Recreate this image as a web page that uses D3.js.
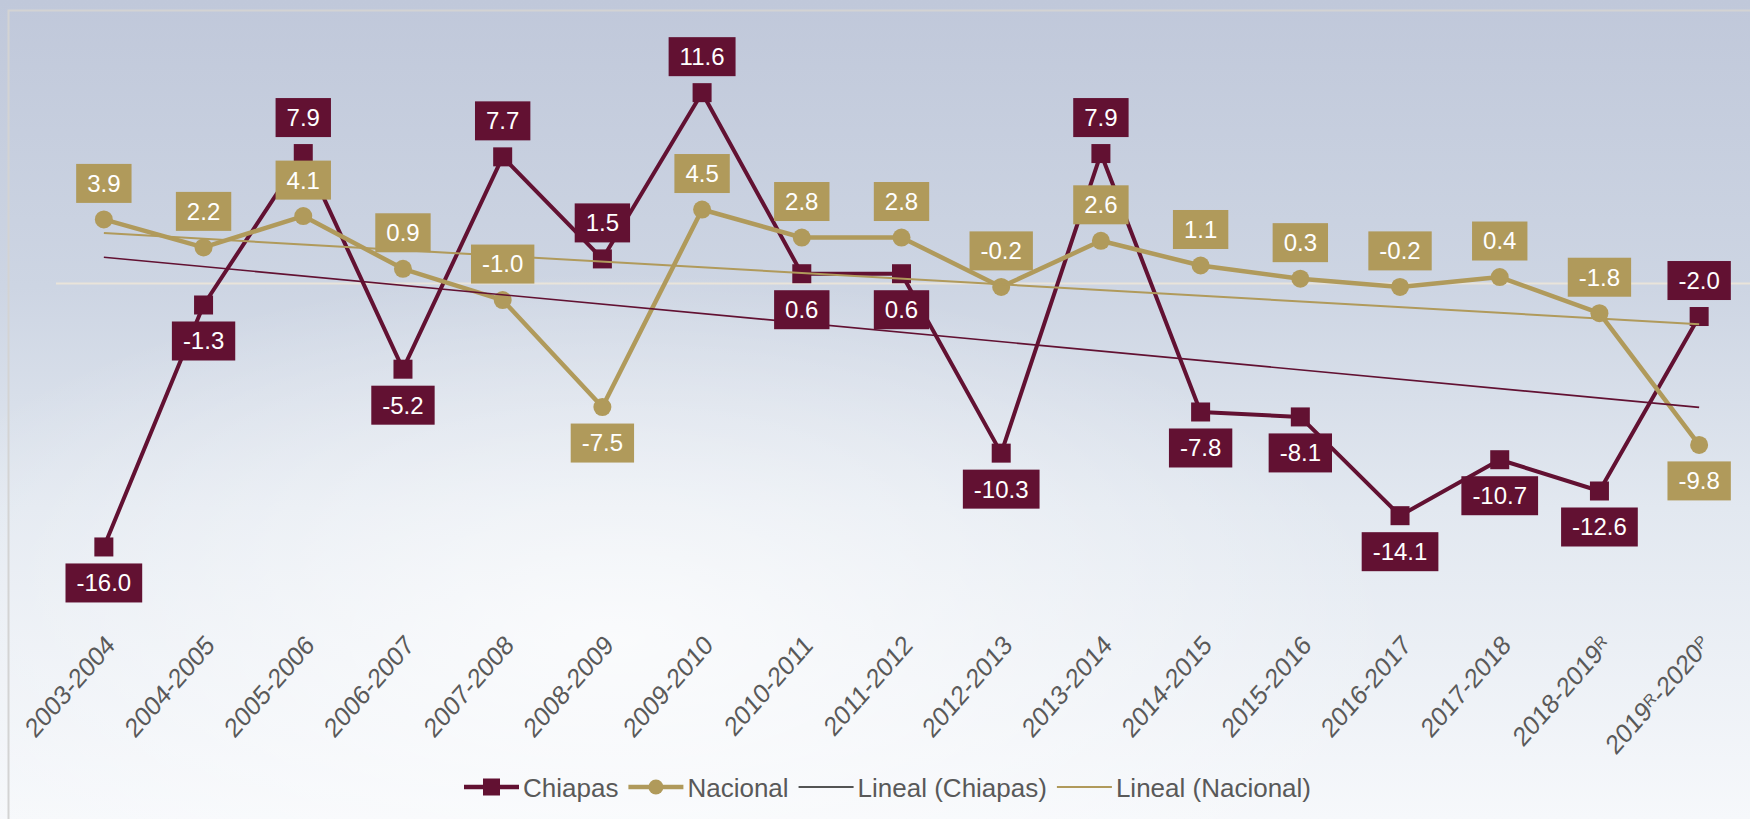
<!DOCTYPE html>
<html>
<head>
<meta charset="utf-8">
<script src="https://cdn.jsdelivr.net/npm/d3@7"></script>
<style>
  html, body { margin: 0; padding: 0; overflow: hidden; }
  svg { display: block; font-family: "Liberation Sans", Arial, sans-serif; }
</style>
</head>
<body>
<svg id="chart" width="1750" height="819"></svg>
<script>
// ---- data ----
const categories = ["2003-2004","2004-2005","2005-2006","2006-2007","2007-2008","2008-2009","2009-2010","2010-2011","2011-2012","2012-2013","2013-2014","2014-2015","2015-2016","2016-2017","2017-2018","2018-2019^R","2019^R-2020^P"];
const chiapas  = [-16.0, -1.3, 7.9, -5.2, 7.7, 1.5, 11.6, 0.6, 0.6, -10.3, 7.9, -7.8, -8.1, -14.1, -10.7, -12.6, -2.0];
const nacional = [3.9, 2.2, 4.1, 0.9, -1.0, -7.5, 4.5, 2.8, 2.8, -0.2, 2.6, 1.1, 0.3, -0.2, 0.4, -1.8, -9.8];
const seriesNames = ["Chiapas", "Nacional", "Lineal (Chiapas)", "Lineal (Nacional)"];

// ---- layout / style ----
const W = 1750, H = 819;
const MAROON = "#621132", GOLD = "#b09a5b";
const chiapasAbove = new Set([2, 4, 5, 6, 10, 16]);
const nacionalBelow = new Set([5, 16]);

const svg = d3.select("#chart");
const defs = svg.append("defs");
const lg = defs.append("linearGradient").attr("id", "bg").attr("x1", 0).attr("y1", 0).attr("x2", 0).attr("y2", 1);
lg.append("stop").attr("offset", "0%").attr("stop-color", "#c0c8da");
lg.append("stop").attr("offset", "35%").attr("stop-color", "#cdd5e3");
lg.append("stop").attr("offset", "62%").attr("stop-color", "#e2e8f0");
lg.append("stop").attr("offset", "100%").attr("stop-color", "#f6f8fb");
const rg = defs.append("radialGradient").attr("id", "glow").attr("cx", 0.35).attr("cy", 0.78).attr("r", 0.45);
rg.append("stop").attr("offset", "0%").attr("stop-color", "#ffffff").attr("stop-opacity", 0.75);
rg.append("stop").attr("offset", "100%").attr("stop-color", "#ffffff").attr("stop-opacity", 0);

svg.append("rect").attr("width", W).attr("height", H).attr("fill", "url(#bg)");
svg.append("rect").attr("width", W).attr("height", H).attr("fill", "url(#glow)");
svg.append("rect").attr("x", 8.5).attr("y", 10.5).attr("width", W + 20).attr("height", H + 20)
  .attr("fill", "none").attr("stroke", "#d3d3d3").attr("stroke-width", 2);

const x = d3.scalePoint().domain(d3.range(categories.length)).range([54, 1749]).padding(0.5);
const y = d3.scaleLinear().domain([-20, 15]).range([612.8, 36.7]);

// zero line
svg.append("line").attr("x1", 56).attr("x2", W).attr("y1", y(0)).attr("y2", y(0))
  .attr("stroke", "#e9e4da").attr("stroke-width", 2);

// x axis labels
const axis = svg.append("g").attr("transform", "translate(0,640)")
  .call(d3.axisBottom(x).tickSize(0).tickFormat(""));
axis.select(".domain").remove();
axis.selectAll(".tick").each(function(d) {
  const g = d3.select(this);
  g.select("text").remove();
  const t = g.append("text")
    .attr("fill", "#595959").attr("font-size", 24)
    .attr("text-anchor", "end").attr("dy", "0.35em")
    .attr("transform", "translate(6,0) scale(1,1.14) rotate(-45)");
  const parts = categories[d].split(/(\^[A-Z])/).filter(s => s.length);
  parts.forEach(p => {
    if (p[0] === "^") {
      t.append("tspan").attr("font-size", 15).attr("baseline-shift", "35%").text(p.slice(1));
    } else {
      t.append("tspan").text(p);
    }
  });
});

// lines
const idx = d3.range(categories.length);
const lineGen = vals => d3.line().x(i => x(i)).y(i => y(vals[i]))(idx);
svg.append("path").attr("d", lineGen(chiapas)).attr("fill", "none").attr("stroke", MAROON).attr("stroke-width", 4).attr("stroke-linejoin", "round");
svg.append("path").attr("d", lineGen(nacional)).attr("fill", "none").attr("stroke", GOLD).attr("stroke-width", 4.5).attr("stroke-linejoin", "round");

// markers
svg.append("g").selectAll("rect").data(idx).join("rect")
  .attr("x", i => x(i) - 9.5).attr("y", i => y(chiapas[i]) - 9.5)
  .attr("width", 19).attr("height", 19).attr("fill", MAROON);
svg.append("g").selectAll("circle").data(idx).join("circle")
  .attr("cx", i => x(i)).attr("cy", i => y(nacional[i])).attr("r", 9).attr("fill", GOLD);

// linear trend lines (least squares, as the "Lineal" trendline)
function trend(vals) {
  const n = vals.length, xs = d3.range(1, n + 1);
  const mx = d3.mean(xs), my = d3.mean(vals);
  const b = d3.sum(xs, (v, k) => (v - mx) * (vals[k] - my)) / d3.sum(xs, v => (v - mx) ** 2);
  const a = my - b * mx;
  return [a + b * 1, a + b * n];
}
const tc = trend(chiapas), tn = trend(nacional);
const last = categories.length - 1;
svg.append("line").attr("x1", x(0)).attr("x2", x(last)).attr("y1", y(tc[0])).attr("y2", y(tc[1]))
  .attr("stroke", MAROON).attr("stroke-width", 1.6);
svg.append("line").attr("x1", x(0)).attr("x2", x(last)).attr("y1", y(tn[0])).attr("y2", y(tn[1]))
  .attr("stroke", GOLD).attr("stroke-width", 2);

// data labels
function labels(vals, color, isAbove) {
  const g = svg.append("g");
  vals.forEach((v, i) => {
    const cy = y(v) + (isAbove(i) ? -36 : 36);
    const lab = g.append("g");
    const t = lab.append("text").attr("x", x(i)).attr("y", cy).attr("dy", "0.35em")
      .attr("text-anchor", "middle").attr("font-size", 24).attr("fill", "#ffffff")
      .text(v.toFixed(1));
    const w = t.node().getComputedTextLength() + 22;
    lab.insert("rect", "text").attr("x", x(i) - w / 2).attr("y", cy - 19.5)
      .attr("width", w).attr("height", 39).attr("fill", color);
  });
}
labels(chiapas, MAROON, i => chiapasAbove.has(i));
labels(nacional, GOLD, i => !nacionalBelow.has(i));

// legend
const leg = svg.append("g").attr("font-size", 26).attr("fill", "#595959");
let lx = 464;
const ly = 787;
const symW = 55;
seriesNames.forEach((name, k) => {
  const col = k === 0 ? MAROON : k === 1 ? GOLD : k === 2 ? "#1c1c1c" : GOLD;
  leg.append("line").attr("x1", lx).attr("x2", lx + symW).attr("y1", ly).attr("y2", ly)
    .attr("stroke", col).attr("stroke-width", k < 2 ? 4.5 : (k === 2 ? 1.6 : 2));
  if (k === 0) leg.append("rect").attr("x", lx + symW / 2 - 8.5).attr("y", ly - 8.5).attr("width", 17).attr("height", 17).attr("fill", MAROON);
  if (k === 1) leg.append("circle").attr("cx", lx + symW / 2).attr("cy", ly).attr("r", 7.5).attr("fill", GOLD);
  const t = leg.append("text").attr("x", lx + symW + 4).attr("y", ly + 9.5).text(name);
  lx += symW + 4 + t.node().getComputedTextLength() + 10;
});
</script>
</body>
</html>
